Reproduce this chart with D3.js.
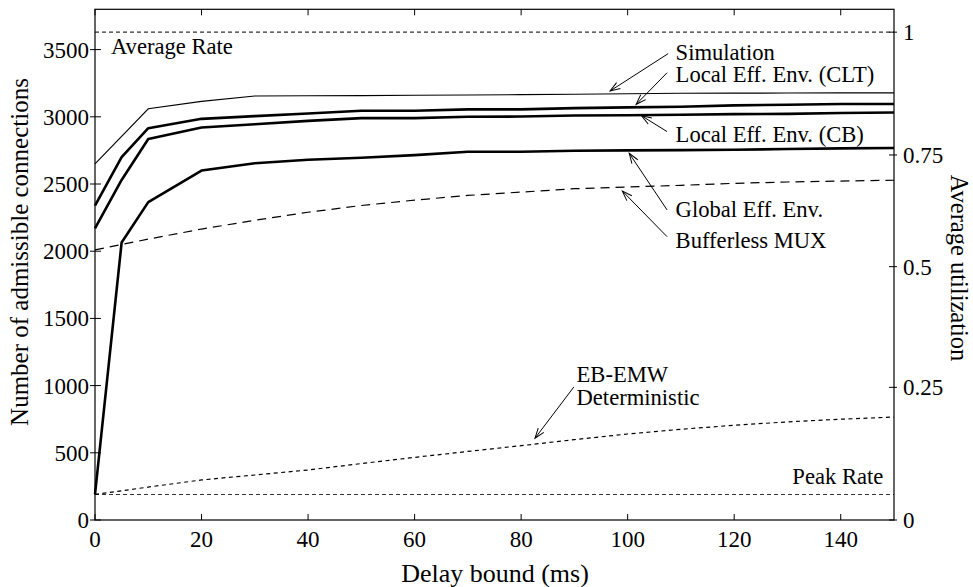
<!DOCTYPE html>
<html>
<head>
<meta charset="utf-8">
<script src="https://cdn.jsdelivr.net/npm/d3@7"></script>
<style>
  html, body { margin: 0; padding: 0; background: #fff; }
  svg { display: block; font-family: "Liberation Serif", "Times New Roman", serif; }
</style>
</head>
<body>
<div id="chart"></div>
<script>
// delay bound grid (ms)
var delays = [0, 5, 10, 20, 30, 40, 50, 60, 70, 80, 90, 100, 110, 120, 130, 140, 150]
var delaysCoarse = [0, 10, 20, 30, 40, 50, 60, 70, 80, 90, 100, 110, 120, 130, 140, 150]

// number of admissible connections
var simulation = [2650, 3060, 3115, 3155, 3157, 3158, 3160, 3162, 3165, 3168, 3172, 3175, 3176, 3177, 3178, 3178]
var localClt = [2340, 2700, 2915, 2985, 3005, 3025, 3045, 3045, 3055, 3055, 3065, 3070, 3075, 3085, 3090, 3095, 3095]
var localCb = [2170, 2530, 2835, 2920, 2945, 2970, 2990, 2990, 3000, 3002, 3010, 3012, 3015, 3020, 3022, 3028, 3032]
var globalEnv = [190, 2065, 2365, 2600, 2655, 2680, 2695, 2715, 2740, 2740, 2748, 2750, 2752, 2755, 2760, 2765, 2768]
var bufferless = [2010, 2090, 2165, 2230, 2290, 2340, 2380, 2415, 2440, 2465, 2478, 2490, 2505, 2515, 2522, 2528]
var deterministic = [190, 245, 298, 335, 372, 420, 466, 510, 553, 598, 640, 675, 705, 730, 750, 766]
var averageRate = 3630
var peakRate = 190

var xTicks = [0, 20, 40, 60, 80, 100, 120, 140]
var yTicks = [0, 500, 1000, 1500, 2000, 2500, 3000, 3500]
var utilTicks = [0, 0.25, 0.5, 0.75, 1]
var utilTickLabels = ["0", "0.25", "0.5", "0.75", "1"]
// where each utilization tick sits, in connections
var utilAnchors = [0, 987, 1885, 2716, 3630]

// annotations: [label lines], text position, arrow from -> to (data units)
var notes = [
  { lines: ["Simulation"], tx: 109, ty: 3426, from: [107.6, 3470], to: [96.7, 3192] },
  { lines: ["Local Eff. Env. (CLT)"], tx: 109, ty: 3262, from: [107.4, 3328], to: [101.6, 3093] },
  { lines: ["Local Eff. Env. (CB)"], tx: 109, ty: 2816, from: [107.4, 2890], to: [102.6, 3008] },
  { lines: ["Global Eff. Env."], tx: 109, ty: 2257, from: [107.4, 2307], to: [100.3, 2728] },
  { lines: ["Bufferless MUX"], tx: 109, ty: 2026, from: [107.4, 2108], to: [99, 2448] },
  { lines: ["EB-EMW", "Deterministic"], tx: 90.4, ty: 1029, from: [89.9, 990], to: [82.6, 608] }
]

var W = 973, H = 587
var mLeft = 95, mRight = 894, mTop = 9.3, mBottom = 520

var x = d3.scaleLinear().domain([0, 150]).range([mLeft, mRight])
var y = d3.scaleLinear().domain([0, 3800]).range([mBottom, mTop])
var util = d3.scaleLinear().domain(utilTicks).range(utilAnchors)

var svg = d3.select("#chart").append("svg")
  .attr("width", W)
  .attr("height", H)

svg.append("defs").append("marker")
  .attr("id", "arr")
  .attr("viewBox", "-12 -6 14 12")
  .attr("refX", 0).attr("refY", 0)
  .attr("markerWidth", 14).attr("markerHeight", 12)
  .attr("markerUnits", "userSpaceOnUse")
  .attr("orient", "auto")
  .append("path")
  .attr("d", "M-10,-3.5L0,0L-10,3.5")
  .attr("fill", "none")
  .attr("stroke", "#000")
  .attr("stroke-width", 1)

var line = d3.line()
  .x(function(d) { return x(d[0]) })
  .y(function(d) { return y(d[1]) })

function series(xs, ys) {
  return xs.map(function(v, i) { return [v, ys[i]] })
}

// reference lines
svg.append("path")
  .attr("d", line([[0, averageRate], [150, averageRate]]))
  .attr("fill", "none").attr("stroke", "#333").attr("stroke-width", 1.1)
  .attr("stroke-dasharray", "4,3")
svg.append("path")
  .attr("d", line([[0, peakRate], [150, peakRate]]))
  .attr("fill", "none").attr("stroke", "#333").attr("stroke-width", 1.1)
  .attr("stroke-dasharray", "4,3")

svg.append("path")
  .attr("d", line(series(delaysCoarse, deterministic)))
  .attr("fill", "none").attr("stroke", "#000").attr("stroke-width", 1.2)
  .attr("stroke-dasharray", "4,3.5")
svg.append("path")
  .attr("d", line(series(delaysCoarse, bufferless)))
  .attr("fill", "none").attr("stroke", "#000").attr("stroke-width", 1.2)
  .attr("stroke-dasharray", "9,6")

svg.append("path")
  .attr("d", line(series(delaysCoarse, simulation)))
  .attr("fill", "none").attr("stroke", "#000").attr("stroke-width", 1.1)

;[localClt, localCb, globalEnv].forEach(function(s) {
  svg.append("path")
    .attr("d", line(series(delays, s)))
    .attr("fill", "none").attr("stroke", "#000").attr("stroke-width", 2.6)
    .attr("stroke-linejoin", "round")
})

// frame
svg.append("rect")
  .attr("x", mLeft).attr("y", mTop)
  .attr("width", mRight - mLeft).attr("height", mBottom - mTop)
  .attr("fill", "none").attr("stroke", "#000").attr("stroke-width", 1.2)

var g = svg.append("g").attr("stroke", "#000").attr("stroke-width", 1)

xTicks.forEach(function(t) {
  g.append("line").attr("x1", x(t)).attr("x2", x(t)).attr("y1", mBottom).attr("y2", mBottom - 6)
  g.append("line").attr("x1", x(t)).attr("x2", x(t)).attr("y1", mTop).attr("y2", mTop + 6)
})
yTicks.forEach(function(t) {
  g.append("line").attr("x1", mLeft - 5).attr("x2", mLeft + 6).attr("y1", y(t)).attr("y2", y(t))
})
utilTicks.forEach(function(t) {
  g.append("line").attr("x1", mRight - 5).attr("x2", mRight + 3).attr("y1", y(util(t))).attr("y2", y(util(t)))
})

var fs = 23
var fn = 22.6

svg.selectAll(".xl").data(xTicks).enter().append("text")
  .attr("x", function(d) { return x(d) })
  .attr("y", mBottom + 27)
  .attr("text-anchor", "middle")
  .attr("font-size", fs)
  .text(function(d) { return d })

svg.selectAll(".yl").data(yTicks).enter().append("text")
  .attr("x", mLeft - 6)
  .attr("y", function(d) { return y(d) })
  .attr("dy", "0.35em")
  .attr("text-anchor", "end")
  .attr("font-size", fs)
  .text(function(d) { return d })

svg.selectAll(".ul").data(utilTicks).enter().append("text")
  .attr("x", mRight + 9)
  .attr("y", function(d) { return y(util(d)) })
  .attr("dy", "0.35em")
  .attr("font-size", fs)
  .text(function(d, i) { return utilTickLabels[i] })

// axis titles
svg.append("text")
  .attr("x", 495)
  .attr("y", 582)
  .attr("text-anchor", "middle")
  .attr("font-size", 26)
  .text("Delay bound (ms)")

svg.append("text")
  .attr("transform", "translate(28,252) rotate(-90)")
  .attr("text-anchor", "middle")
  .attr("font-size", 25)
  .text("Number of admissible connections")

svg.append("text")
  .attr("transform", "translate(951,268) rotate(90)")
  .attr("text-anchor", "middle")
  .attr("font-size", 24.5)
  .text("Average utilization")

// labels on reference lines
svg.append("text")
  .attr("x", x(3)).attr("y", y(3465))
  .attr("font-size", fn)
  .text("Average Rate")
svg.append("text")
  .attr("x", x(148)).attr("y", y(268))
  .attr("text-anchor", "end")
  .attr("font-size", fn)
  .text("Peak Rate")

// annotations with arrows
notes.forEach(function(n) {
  n.lines.forEach(function(l, i) {
    svg.append("text")
      .attr("x", x(n.tx))
      .attr("y", y(n.ty) + i * 23)
      .attr("font-size", fn)
      .text(l)
  })
  svg.append("line")
    .attr("x1", x(n.from[0])).attr("y1", y(n.from[1]))
    .attr("x2", x(n.to[0])).attr("y2", y(n.to[1]))
    .attr("stroke", "#000").attr("stroke-width", 1)
    .attr("marker-end", "url(#arr)")
})
</script>
</body>
</html>
